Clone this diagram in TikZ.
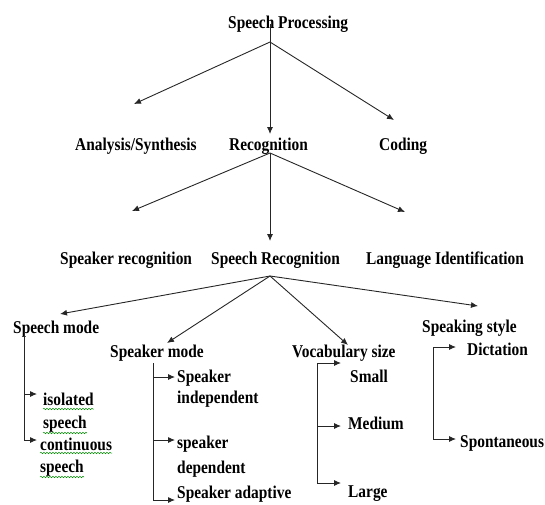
\documentclass[tikz,border=0pt]{standalone}
\usepackage{fontspec}
\setmainfont{Liberation Serif}[FakeStretch=0.855]
\usetikzlibrary{arrows.meta,decorations.pathmorphing}
\begin{document}
\begin{tikzpicture}[x=1pt,y=-1pt,
  lbl/.style={inner sep=0pt, anchor=base west, font=\fontsize{18}{21}\selectfont\bfseries},
  ln/.style={line width=0.9pt, draw=black!85},
  arr/.style={ln, -{Latex[length=7pt,width=6pt]}},
  wavy/.style={draw=green!55!black, line width=0.5pt, decorate,
    decoration={snake, amplitude=0.7pt, segment length=3pt}}]
\useasboundingbox (0,0) rectangle (545,504);
% labels
\node[lbl] (sp)  at (228,28)  {Speech Processing};
\node[lbl] (as)  at (75,150)  {Analysis/Synthesis};
\node[lbl] (rec) at (229,150) {Recognition};
\node[lbl] (cod) at (379,150) {Coding};
\node[lbl] (skr) at (60,264)  {Speaker recognition};
\node[lbl] (spr) at (211,264) {Speech Recognition};
\node[lbl] (lid) at (366,264) {Language Identification};
\node[lbl] (smo) at (13,333)  {Speech mode};
\node[lbl] (kmo) at (110,357) {Speaker mode};
\node[lbl] (voc) at (292,357) {Vocabulary size};
\node[lbl] (sty) at (422,332) {Speaking style};
\node[lbl] (iso1) at (43,405) {isolated};
\node[lbl] (iso2) at (43,428) {speech};
\node[lbl] (con1) at (40,450) {continuous};
\node[lbl] (con2) at (40,472) {speech};
\node[lbl] (ind1) at (177,382) {Speaker};
\node[lbl] (ind2) at (177,403) {independent};
\node[lbl] (dep1) at (177,448) {speaker};
\node[lbl] (dep2) at (177,473) {dependent};
\node[lbl] (ada)  at (177,498) {Speaker adaptive};
\node[lbl] (sma) at (350,382) {Small};
\node[lbl] (med) at (348,429) {Medium};
\node[lbl] (lar) at (348,497) {Large};
\node[lbl] (dic) at (467,355) {Dictation};
\node[lbl] (spo) at (460,447) {Spontaneous};
% coordinates
\coordinate (t0) at (270,24);
\coordinate (b1) at (270,42);
\coordinate (e_as) at (134,104);
\coordinate (e_rec) at (270,134);
\coordinate (e_cod) at (394,120);
\coordinate (b2) at (270,153);
\coordinate (e_skr) at (132,211);
\coordinate (e_spr) at (270,241);
\coordinate (e_lid) at (405,212);
\coordinate (b3) at (270,276);
\coordinate (e_smo) at (60,314);
\coordinate (e_kmo) at (167,343);
\coordinate (e_voc) at (348,345);
\coordinate (e_sty) at (478,306);
\coordinate (s_smo) at (24,332);
\coordinate (e_iso) at (37,394);
\coordinate (e_con) at (37,440);
\coordinate (s_kmo) at (153,363);
\coordinate (e_ind) at (175,377);
\coordinate (e_dep) at (175,440);
\coordinate (e_ada) at (175,500);
\coordinate (s_voc) at (317,363);
\coordinate (e_sma) at (341,363);
\coordinate (e_med) at (341,426);
\coordinate (e_lar) at (341,483);
\coordinate (s_sty) at (433,347);
\coordinate (e_dic) at (456,347);
\coordinate (e_spo) at (456,439);
% connectors level 1
\draw[arr] (t0) -- (e_rec);
\draw[arr] (b1) -- (e_as);
\draw[arr] (b1) -- (e_cod);
% level 2
\draw[arr] (b2) -- (e_skr);
\draw[arr] (b2) -- (e_spr);
\draw[arr] (b2) -- (e_lid);
% level 3
\draw[arr] (b3) -- (e_smo);
\draw[arr] (b3) -- (e_kmo);
\draw[arr] (b3) -- (e_voc);
\draw[arr] (b3) -- (e_sty);
% sub-branches
\draw[arr] (s_smo) |- (e_iso);
\draw[arr] (s_smo) |- (e_con);
\draw[arr] (s_kmo) |- (e_ind);
\draw[arr] (s_kmo) |- (e_dep);
\draw[arr] (s_kmo) |- (e_ada);
\draw[arr] (s_voc) -- (e_sma);
\draw[arr] (s_voc) |- (e_med);
\draw[arr] (s_voc) |- (e_lar);
\draw[arr] (s_sty) -- (e_dic);
\draw[arr] (s_sty) |- (e_spo);
% spell-check underlines
\draw[wavy] ([yshift=-4pt]iso1.base west) -- ([yshift=-4pt]iso1.base east);
\draw[wavy] ([yshift=-5pt]iso2.base west) -- ([yshift=-5pt]iso2.base east);
\draw[wavy] ([yshift=-3pt]con1.base west) -- ([yshift=-3pt]con1.base east);
\draw[wavy] ([yshift=-5pt]con2.base west) -- ([yshift=-5pt]con2.base east);
\end{tikzpicture}
\end{document}
